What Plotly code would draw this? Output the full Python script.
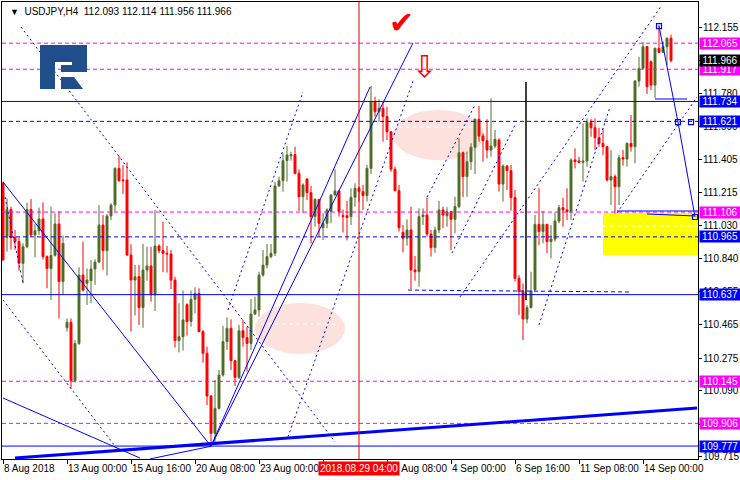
import plotly.graph_objects as go

# ---------------- data (USDJPY H4) ----------------
opens = [111.269,110.962,111.121,110.962,110.938,110.815,110.909,111.121,110.976,111.000,
         111.067,110.853,110.785,110.860,111.038,110.711,110.449,110.480,110.148,110.360,
         110.748,110.701,110.716,110.783,110.822,111.032,110.887,111.084,111.146,111.354,
         111.288,111.288,110.862,110.720,110.739,110.563,110.777,110.800,110.635,110.913,
         110.887,110.872,110.868,110.720,110.376,110.398,110.580,110.484,110.610,110.644,
         110.427,110.304,110.061,109.849,109.991,110.181,110.370,110.446,110.262,110.167,
         110.432,110.393,110.360,110.527,110.550,110.748,110.805,110.853,110.872,111.254,
         111.284,111.398,111.425,111.432,111.326,111.193,111.294,111.216,111.080,111.178,
         111.017,111.042,111.110,111.203,111.226,111.087,111.085,111.080,111.190,111.241,
         111.222,111.199,111.354,111.733,111.676,111.695,111.648,111.562,111.349,111.227,
         110.991,110.957,111.004,110.777,110.767,111.080,111.089,110.981,110.904,111.004,
         111.118,111.085,111.108,111.065,111.137,111.443,111.307,111.392,111.474,111.633,
         111.538,111.511,111.458,111.481,111.515,111.265,111.367,111.341,111.188,110.730,
         110.654,110.499,110.563,110.665,111.036,110.995,111.036,110.938,110.953,111.055,
         111.131,111.118,111.108,111.402,111.396,111.388,111.396,111.615,111.585,111.528,
         111.496,111.477,111.288,111.307,111.250,111.415,111.407,111.496,111.477,111.850,
         111.922,112.045,111.960,111.827,112.036,112.013,112.045,112.093]
highs = [111.279,111.184,111.137,111.004,110.962,110.928,111.159,111.180,111.038,111.131,
         111.161,110.860,111.137,111.099,111.112,110.972,110.502,110.502,110.379,110.792,
         110.938,110.786,110.834,110.838,111.146,111.089,111.095,111.156,111.360,111.424,
         111.373,111.388,110.923,110.805,110.805,110.925,110.909,110.909,111.118,110.923,
         111.051,110.913,110.891,110.739,110.588,110.660,110.588,110.660,110.679,110.673,
         110.436,110.342,110.067,110.152,110.209,110.459,110.508,110.497,110.266,110.465,
         110.493,110.455,110.612,110.626,110.767,110.891,110.925,110.925,111.279,111.307,
         111.439,111.481,111.449,111.477,111.349,111.269,111.297,111.254,111.184,111.180,
         111.099,111.127,111.207,111.349,111.230,111.120,111.170,111.241,111.269,111.250,
         111.260,111.373,111.822,111.761,111.746,111.733,111.704,111.566,111.364,111.260,
         111.032,111.065,111.137,110.856,111.127,111.127,111.188,111.004,111.023,111.169,
         111.137,111.133,111.112,111.193,111.525,111.449,111.449,111.496,111.638,111.708,
         111.553,111.633,111.752,111.572,111.525,111.377,111.373,111.373,111.231,110.748,
         110.700,110.578,110.767,111.089,111.241,111.112,111.040,111.032,111.104,111.146,
         111.188,111.241,111.411,111.468,111.420,111.610,111.638,111.634,111.638,111.585,
         111.581,111.480,111.458,111.320,111.430,111.458,111.502,111.657,111.856,111.988,
         112.070,112.049,111.966,112.040,112.168,112.074,112.097,112.114]
lows = [110.830,110.881,110.894,110.891,110.773,110.701,110.900,110.966,110.849,110.976,
        110.838,110.673,110.607,110.853,110.502,110.635,110.427,110.105,110.137,110.351,
        110.654,110.578,110.588,110.692,110.815,110.777,110.745,111.061,111.108,111.279,
        111.209,110.856,110.427,110.518,110.465,110.449,110.716,110.597,110.544,110.872,
        110.764,110.762,110.669,110.336,110.309,110.319,110.404,110.455,110.531,110.423,
        110.251,110.010,109.774,109.793,109.985,110.171,110.323,110.209,110.118,110.158,
        110.342,110.200,110.323,110.521,110.512,110.739,110.786,110.843,110.856,111.250,
        111.222,111.279,111.398,111.320,111.112,111.099,111.174,110.928,111.023,110.966,
        110.947,111.014,111.042,111.200,111.080,110.990,110.945,111.032,111.137,111.165,
        111.118,111.165,111.322,111.648,111.619,111.506,111.515,111.335,111.225,110.995,
        110.877,110.915,110.669,110.716,110.682,111.032,110.966,110.853,110.875,110.985,
        111.014,111.023,110.891,110.985,111.127,111.190,111.193,111.345,111.322,111.506,
        111.392,111.411,111.420,111.468,111.222,111.165,111.231,111.114,110.711,110.521,
        110.379,110.474,110.559,110.660,110.919,110.928,110.872,110.843,110.938,111.042,
        111.023,111.061,111.061,111.354,111.383,111.279,111.364,111.534,111.458,111.477,
        111.430,111.279,111.146,111.099,111.146,111.369,111.364,111.449,111.383,111.818,
        111.913,111.776,111.799,111.752,112.008,112.010,111.941,111.956]
closes = [110.834,111.121,110.962,110.938,110.815,110.909,111.121,110.976,111.000,111.067,
          110.853,110.785,110.860,111.038,110.711,110.928,110.480,110.148,110.360,110.748,
          110.663,110.720,110.783,110.822,111.032,110.887,111.084,111.146,111.354,111.284,
          111.284,110.862,110.720,110.739,110.563,110.777,110.800,110.635,110.913,110.887,
          110.872,110.868,110.720,110.376,110.398,110.493,110.484,110.610,110.644,110.427,
          110.304,110.061,109.849,109.991,110.181,110.370,110.446,110.262,110.167,110.432,
          110.393,110.360,110.527,110.550,110.748,110.805,110.853,110.872,111.254,111.284,
          111.398,111.430,111.432,111.326,111.193,111.260,111.216,111.080,111.178,111.042,
          111.042,111.118,111.203,111.226,111.108,111.080,111.075,111.190,111.241,111.222,
          111.199,111.354,111.733,111.676,111.695,111.648,111.562,111.349,111.227,111.017,
          110.957,111.004,110.777,110.767,111.080,111.089,110.981,110.904,111.004,111.118,
          111.089,111.108,111.065,111.137,111.443,111.307,111.392,111.474,111.633,111.538,
          111.511,111.458,111.481,111.519,111.265,111.367,111.341,111.188,110.730,110.654,
          110.499,110.563,110.658,111.036,110.995,111.036,110.938,110.953,111.055,111.131,
          111.118,111.108,111.402,111.392,111.388,111.396,111.615,111.585,111.528,111.496,
          111.477,111.288,111.307,111.250,111.415,111.407,111.496,111.477,111.850,111.922,
          112.045,111.818,111.827,112.036,112.013,112.045,112.093,111.966]
bar_index = list(range(len(opens)))

# time axis labels (bar index -> label)
time_tick_bars = [0, 16, 32, 48, 64, 80, 96, 112, 128, 144, 160]
time_tick_texts = ["8 Aug 2018", "13 Aug 00:00", "15 Aug 16:00", "20 Aug 08:00",
                   "23 Aug 00:00", "27 Aug 16:00", "30 Aug 08:00", "4 Sep 00:00",
                   "6 Sep 16:00", "11 Sep 08:00", "14 Sep 00:00"]
crosshair_bar = 89
crosshair_text = "2018.08.29 04:00"

price_ticks = [112.155, 111.965, 111.780, 111.590, 111.405, 111.215, 111.030,
               110.840, 110.655, 110.465, 110.275, 110.090, 109.900, 109.715]

# horizontal levels
level_prices = [112.065, 111.917, 111.734, 111.621, 111.106, 110.965, 110.637, 110.145, 109.906, 109.777]
level_kinds = ["m", "m", "bs", "bd", "m", "bd", "bs", "m", "m", "bs"]
current_price = 111.966

# trend lines: (bar, price) endpoints
trend_x0 = [3, 4.5, 0, 0.5, 0, 0, 36.75, 52, 52, 71.25, 56.25, 106, 112.25, 114.25, 134, 153.5,
            164, 168.75, 163, 153.5, 161, 101.25, 130.75]
trend_y0 = [109.709, 112.157, 111.277, 111.191, 110.607, 110.050, 109.704, 109.776, 109.776,
            109.829, 110.550, 111.191, 110.873, 110.624, 110.465, 111.101,
            112.162, 111.617, 111.748, 111.112, 111.095, 110.663, 111.844]
trend_x1 = [173.5, 83, 52, 5, 28.75, 34.25, 52, 91.75, 102.5, 102.5, 75, 118, 128, 164.75, 151.75, 173.5,
            168.75, 173, 171, 173.75, 172.75, 157.25, 130.75]
trend_y1 = [109.993, 109.800, 109.776, 110.703, 109.755, 109.709, 109.776, 111.816, 112.066,
            111.850, 111.788, 111.714, 111.600, 112.282, 111.703, 111.759,
            111.617, 111.078, 111.748, 111.112, 111.084, 110.652, 110.607]
trend_kind = ["thick", "dot", "solid", "dot", "dot", "solid", "solid", "solid", "solid",
              "dot", "dot", "dot", "dot", "dot", "dot", "dot",
              "solid", "solid", "solid", "solid", "solid", "dash", "black"]

pivot_x = [164, 168.75, 172, 173]
pivot_y = [112.162, 111.617, 111.617, 111.078]

ellipse_x0 = [97.5, 63]
ellipse_x1 = [120.25, 85.5]
ellipse_y0 = [111.401, 110.300]
ellipse_y1 = [111.686, 110.590]
white_dash_price = [111.589, 110.470, 111.027]
white_dash_x0 = [99, 64.5, 150]
white_dash_x1 = [119, 84, 173.75]

zone_x0, zone_x1 = 150, 173.75
zone_y0, zone_y1 = 110.862, 111.101

header_text = "USDJPY,H4&nbsp;&nbsp;112.093 112.114 111.956 111.966"

# ---------------- figure ----------------
BLUE = "#0000ff"
MAG = "#ff00ff"
FONT = "Liberation Sans"

fig = go.Figure()
fig.add_trace(go.Candlestick(
    x=bar_index, open=opens, high=highs, low=lows, close=closes,
    increasing=dict(line=dict(color="#55702a", width=1), fillcolor="#3a6b1d"),
    decreasing=dict(line=dict(color="#ff0000", width=1), fillcolor="#ff0000"),
    whiskerwidth=0, hoverinfo="skip", showlegend=False))

fig.add_trace(go.Scatter(x=pivot_x, y=pivot_y, mode="markers",
                         marker=dict(symbol="square-open", size=5, color=BLUE, line=dict(width=1.2)),
                         hoverinfo="skip", showlegend=False))

shapes = []
# filled areas (below)
for x0, x1, y0, y1 in zip(ellipse_x0, ellipse_x1, ellipse_y0, ellipse_y1):
    shapes.append(dict(type="circle", xref="x", yref="y", x0=x0, x1=x1, y0=y0, y1=y1,
                       fillcolor="#fde1dd", line=dict(width=0), layer="below"))
shapes.append(dict(type="rect", xref="x", yref="y", x0=zone_x0, x1=zone_x1, y0=zone_y0, y1=zone_y1,
                   fillcolor="#ffff00", line=dict(width=0), layer="below"))
for p, x0, x1 in zip(white_dash_price, white_dash_x0, white_dash_x1):
    shapes.append(dict(type="line", xref="x", yref="y", x0=x0, x1=x1, y0=p, y1=p,
                       line=dict(color="white", width=1, dash="4px,3px"), layer="below"))

# horizontal levels
for p, k in zip(level_prices, level_kinds):
    if k == "m":
        ln = dict(color=MAG, width=1, dash="4px,3px")
    elif k == "bd":
        ln = dict(color=BLUE, width=1, dash="4px,3px")
    else:
        ln = dict(color=BLUE, width=1)
    shapes.append(dict(type="line", xref="paper", yref="y", x0=0, x1=1, y0=p, y1=p, line=ln))

# trend lines
for x0, y0, x1, y1, k in zip(trend_x0, trend_y0, trend_x1, trend_y1, trend_kind):
    if k == "thick":
        ln = dict(color=BLUE, width=3)
    elif k == "dot":
        ln = dict(color=BLUE, width=1, dash="2px,3px")
    elif k == "dash":
        ln = dict(color=BLUE, width=1, dash="4px,3px")
    elif k == "black":
        ln = dict(color="black", width=1.5)
    else:
        ln = dict(color=BLUE, width=1)
    shapes.append(dict(type="line", xref="x", yref="y", x0=x0, x1=x1, y0=y0, y1=y1, line=ln))

# crosshair vertical
shapes.append(dict(type="line", xref="x", yref="paper", x0=crosshair_bar, x1=crosshair_bar,
                   y0=0, y1=1, line=dict(color="#e00000", width=1)))

# logo (pixel geometry -> paper)
PL, PR, PT, PB = 2, 698, 2, 459
def px(x, y):
    return (x - PL) / (PR - PL), (PB - y) / (PB - PT)
def poly(points):
    s = ""
    for i, (x, y) in enumerate(points):
        a, b = px(x, y)
        s += ("M" if i == 0 else "L") + f"{a:.5f},{b:.5f} "
    return s + "Z"
logo_parts = [
    [(40, 45), (87, 45), (87, 72), (61, 72), (61, 65), (72, 65), (72, 62), (55, 62), (55, 89), (40, 89)],
    [(61, 77), (74, 77), (83, 89), (61, 89)],
]
for pts in logo_parts:
    shapes.append(dict(type="path", xref="paper", yref="paper", path=poly(pts),
                       fillcolor="#1f4e8b", line=dict(width=0)))

annotations = []
# price scale labels (right side)
for v in price_ticks:
    annotations.append(dict(xref="paper", yref="y", x=1, y=v, xanchor="left", yanchor="middle",
                            xshift=3, text=f"{v:.3f}", showarrow=False,
                            font=dict(color="black", size=10, family=FONT)))
# coloured price labels on the right
label_items = list(zip(level_prices, level_kinds)) + [(current_price, "cur")]
for p, k in label_items:
    bg = {"m": MAG, "bd": BLUE, "bs": BLUE, "cur": "#000000"}[k]
    annotations.append(dict(xref="paper", yref="y", x=1, y=p, xanchor="left", yanchor="middle",
                            xshift=1, text=f"{p:.3f}", showarrow=False, bgcolor=bg,
                            font=dict(color="white", size=10, family=FONT), borderpad=0,
                            width=40, height=11, align="center"))
# crosshair time label
annotations.append(dict(xref="x", yref="paper", x=crosshair_bar, y=0, yanchor="top", yshift=-2,
                        text=crosshair_text, showarrow=False, bgcolor="#ff0000",
                        font=dict(color="white", size=10, family=FONT), borderpad=1))
# header
hx, hy = px(2, 11)
annotations.append(dict(xref="paper", yref="paper", x=hx, y=hy, xanchor="left", yanchor="middle",
                        xshift=6,
                        text="<span style='font-size:9px'>▼</span>&nbsp;&nbsp;" + header_text,
                        showarrow=False, font=dict(color="black", size=10, family=FONT)))
# symbols
annotations.append(dict(xref="x", yref="y", x=99.5, y=112.185, text="✔", showarrow=False,
                        font=dict(color="#ff0000", size=30, family="DejaVu Sans")))
annotations.append(dict(xref="x", yref="y", x=105.25, y=111.93, text="⇩", showarrow=False,
                        font=dict(color="#ff0000", size=30, family="DejaVu Sans")))

fig.update_layout(
    width=740, height=480,
    margin=dict(l=PL, r=740 - PR, t=PT, b=480 - PB, pad=0, autoexpand=False),
    plot_bgcolor="white", paper_bgcolor="white",
    showlegend=False, shapes=shapes, annotations=annotations,
    font=dict(family=FONT, size=10, color="black"),
    xaxis=dict(range=[-0.25, 173.75], rangeslider=dict(visible=False), showgrid=False, zeroline=False,
               tickvals=time_tick_bars, ticktext=time_tick_texts, ticks="outside", ticklen=4,
               tickcolor="black", ticklabelposition="outside right", tickangle=0,
               tickfont=dict(size=10, family=FONT, color="black"), automargin=False,
               showline=True, linecolor="black", linewidth=1, mirror=True, fixedrange=True),
    yaxis=dict(range=[109.7036, 112.2988], side="right", showgrid=False, zeroline=False,
               tickvals=price_ticks, showticklabels=False, automargin=False,
               ticks="outside", ticklen=3, tickcolor="black",
               showline=True, linecolor="black", linewidth=1, mirror=True, fixedrange=True),
)

fig.write_html("out.html", config={"displayModeBar": False},
               post_script="document.body.style.margin='0px';document.body.style.padding='0px';")
